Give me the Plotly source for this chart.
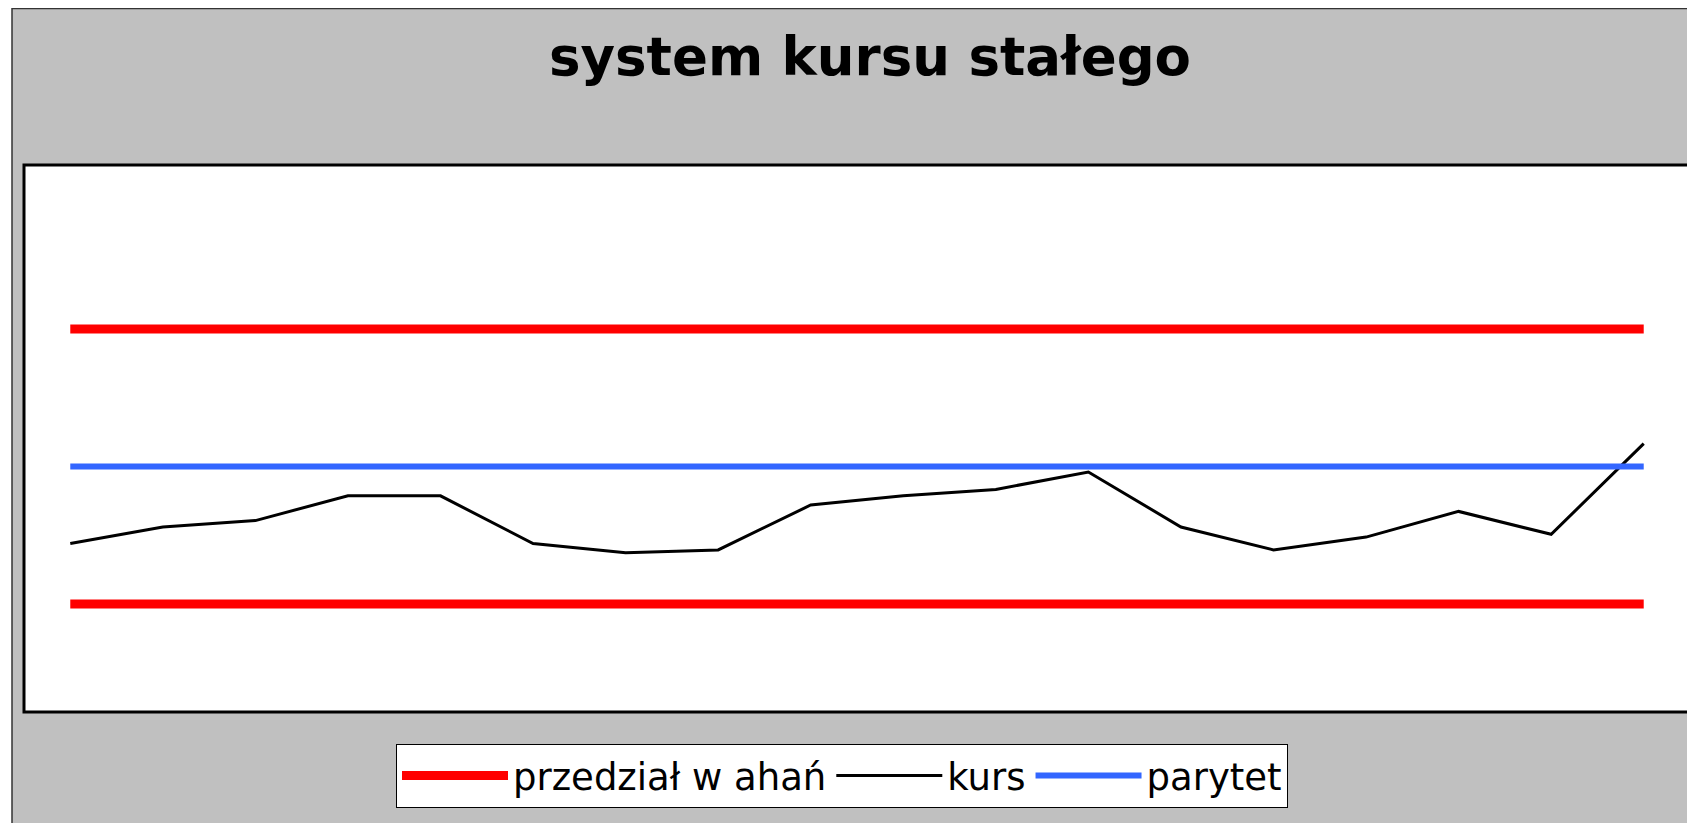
import plotly.graph_objects as go

# ---- data ----
okresy = [str(i) for i in range(1, 19)]
kurs = [91.6, 93.4, 94.1, 96.8, 96.8, 91.6, 90.6, 90.9, 95.8,
        96.8, 97.5, 99.4, 93.4, 90.9, 92.3, 95.1, 92.6, 102.5]
parytet = [100, 100, 100, 100, 100, 100, 100, 100, 100,
           100, 100, 100, 100, 100, 100, 100, 100, 100]
gorna_granica = [115, 115, 115, 115, 115, 115, 115, 115, 115,
                 115, 115, 115, 115, 115, 115, 115, 115, 115]
dolna_granica = [85, 85, 85, 85, 85, 85, 85, 85, 85,
                 85, 85, 85, 85, 85, 85, 85, 85, 85]
nazwy = ["przedział w ahań", "kurs", "parytet"]
tytul = "system kursu stałego"

OFF = 8                      # page body margin of the html page
W, H = 1695 - OFF, 823 - OFF
L, R, T, B = 24 - OFF, 1690 - OFF, 165 - OFF, 712 - OFF   # plot frame (figure px)


def px_x(p):
    return (p - OFF - L) / (R - L)


def px_y(p):
    return (B - (p - OFF)) / (B - T)


fig = go.Figure()
fig.add_trace(go.Scatter(x=okresy, y=gorna_granica, mode="lines", name=nazwy[0],
                         line=dict(color="#FF0000", width=9), legendgroup="band"))
fig.add_trace(go.Scatter(x=okresy, y=kurs, mode="lines", name=nazwy[1],
                         line=dict(color="#000000", width=3)))
fig.add_trace(go.Scatter(x=okresy, y=parytet, mode="lines", name=nazwy[2],
                         line=dict(color="#3366FF", width=6)))
fig.add_trace(go.Scatter(x=okresy, y=dolna_granica, mode="lines", name=nazwy[0],
                         line=dict(color="#FF0000", width=9), legendgroup="band",
                         showlegend=False))

shapes = [
    # white strip left of the grey chart area
    dict(type="rect", xref="paper", yref="paper", x0=px_x(0), x1=px_x(12),
         y0=px_y(840), y1=px_y(0), fillcolor="white", line=dict(width=0), layer="below"),
    # outer border lines
    dict(type="line", xref="paper", yref="paper", x0=px_x(12), x1=px_x(12),
         y0=px_y(8), y1=px_y(840), line=dict(color="#333333", width=1.5), layer="below"),
    dict(type="line", xref="paper", yref="paper", x0=px_x(12), x1=px_x(1720),
         y0=px_y(8.5), y1=px_y(8.5), line=dict(color="#333333", width=1.5), layer="below"),
    # plot frame
    dict(type="rect", xref="paper", yref="paper", x0=0, x1=1, y0=0, y1=1,
         line=dict(color="black", width=3), layer="above"),
]

# axis range so that parity/limits land where they are in the picture
par_px, step_px = 466.5 - OFF, 137.5 / 15
ymin = 100 - (B - par_px) / step_px
ymax = 100 + (par_px - T) / step_px

fig.update_layout(
    width=W, height=H,
    margin=dict(l=L, r=W - R, t=T, b=H - B, pad=0),
    paper_bgcolor="#C0C0C0",
    plot_bgcolor="white",
    title=dict(text="<b>" + tytul + "</b>", x=(870 - OFF) / W, xref="container",
               xanchor="center", y=1 - (56 - OFF) / H, yref="container", yanchor="middle",
               font=dict(family="DejaVu Sans", size=53, color="black")),
    xaxis=dict(type="category", range=[-0.5, 17.5], showgrid=False, zeroline=False,
               showticklabels=False, ticks="", showline=False),
    yaxis=dict(range=[ymin, ymax], showgrid=False, zeroline=False,
               showticklabels=False, ticks="", showline=False),
    showlegend=True,
    legend=dict(orientation="h", x=px_x(396), y=px_y(744), xanchor="left", yanchor="top",
                bgcolor="white", bordercolor="black", borderwidth=1,
                font=dict(family="DejaVu Sans", size=37, color="black"),
                itemwidth=106, traceorder="normal"),
    shapes=shapes,
)

fig.write_html("out.html")
